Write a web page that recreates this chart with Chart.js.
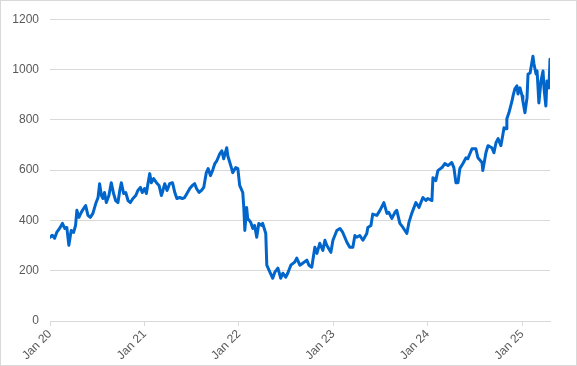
<!DOCTYPE html>
<html>
<head>
<meta charset="utf-8">
<script src="https://cdn.jsdelivr.net/npm/chart.js@4.4.1/dist/chart.umd.min.js"></script>
<style>
    html, body { margin: 0; padding: 0; background: #fff; }
    #wrap {
        width: 577px;
        height: 366px;
        box-sizing: border-box;
        border: 1px solid #d9d9d9;
        background: #fff;
    }
    canvas { display: block; }
</style>
</head>
<body>
<div id="wrap"><canvas id="priceChart" width="575" height="364"></canvas></div>
<script>
// Days since 1 Jan 2020
const days = [
    0, 9, 18, 26, 37, 48, 57, 65, 73, 82, 91, 99, 104, 112, 121, 130, 138, 147, 156, 166,
    177, 186, 192, 199, 205, 211, 218, 228, 237, 246, 254, 263, 270, 276, 285, 293, 302, 311, 321, 332,
    340, 350, 357, 366, 373, 379, 386, 392, 401, 412, 422, 431, 437, 444, 453, 463, 474, 483, 491, 502,
    512, 521, 530, 541, 551, 560, 567, 577, 586, 595, 605, 612, 621, 629, 638, 646, 657, 665, 672, 684,
    688, 703, 707, 719, 727, 734, 746, 750, 754, 761, 765, 777, 785, 792, 800, 808, 820, 823, 835, 839,
    851, 862, 870, 882, 893, 901, 912, 920, 932, 947, 955, 967, 978, 994, 1002, 1013, 1025, 1033, 1044, 1056,
    1064, 1071, 1087, 1095, 1110, 1122, 1133, 1149, 1160, 1172, 1180, 1187, 1199, 1211, 1226, 1230, 1242, 1249, 1265, 1277,
    1292, 1304, 1311, 1323, 1335, 1342, 1354, 1366, 1381, 1389, 1400, 1416, 1428, 1443, 1455, 1462, 1478, 1482, 1493, 1501,
    1517, 1528, 1540, 1555, 1563, 1571, 1579, 1586, 1598, 1610, 1617, 1633, 1648, 1656, 1672, 1675, 1687, 1695, 1710, 1718,
    1726, 1734, 1745, 1753, 1757, 1765, 1768, 1776, 1788, 1792, 1799, 1807, 1811, 1819, 1827, 1830, 1838, 1846, 1850, 1858,
    1869, 1873, 1881, 1885, 1892, 1900, 1908, 1912, 1919, 1923, 1931, 1935
];

const prices = [
    333, 341, 329, 352, 368, 388, 368, 372, 301, 360, 352, 380, 440, 412, 432, 447, 459, 420, 412, 428,
    467, 491, 546, 499, 487, 511, 471, 499, 550, 507, 479, 471, 519, 550, 507, 511, 479, 471, 487, 499,
    519, 531, 511, 527, 507, 546, 586, 550, 566, 550, 539, 499, 519, 546, 519, 546, 550, 511, 487, 491,
    487, 491, 507, 527, 539, 546, 527, 511, 519, 531, 590, 606, 578, 598, 626, 638, 665, 677, 645, 689,
    657, 606, 590, 610, 606, 539, 511, 451, 360, 451, 408, 392, 368, 380, 333, 388, 380, 388, 348, 222,
    194, 170, 194, 210, 170, 190, 174, 190, 222, 234, 250, 222, 230, 242, 222, 214, 293, 269, 309, 281,
    321, 301, 273, 321, 360, 368, 352, 313, 293, 293, 340, 333, 340, 321, 348, 372, 380, 425, 420, 440,
    471, 428, 432, 408, 432, 440, 388, 372, 348, 392, 428, 471, 451, 491, 479, 487, 479, 570, 558, 598,
    610, 626, 618, 630, 610, 550, 550, 606, 626, 649, 645, 685, 685, 649, 630, 598, 669, 697, 689, 669,
    709, 725, 697, 744, 768, 764, 804, 828, 875, 895, 923, 935, 903, 927, 895, 875, 828, 887, 982, 986,
    1053, 1022, 982, 994, 867, 954, 994, 923, 855, 954, 927, 1041
];

const tickLabels = ['Jan 20', 'Jan 21', 'Jan 22', 'Jan 23', 'Jan 24', 'Jan 25'];
const yTicks = [0, 200, 400, 600, 800, 1000, 1200];

const DAY = 86400000;
const tickDays = tickLabels.map((_, i) => (Date.UTC(2020 + i, 0, 1) - Date.UTC(2020, 0, 1)) / DAY);

const points = days.map((d, i) => ({ x: d, y: prices[i] }));

const font = { family: "'Liberation Sans', Arial, sans-serif", size: 12 };
const textColor = '#595959';
const gridColor = '#d9d9d9';

new Chart(document.getElementById('priceChart'), {
    type: 'line',
    data: {
        datasets: [{
            data: points,
            borderColor: '#0066cc',
            borderWidth: 3,
            pointRadius: 0,
            tension: 0,
            borderJoinStyle: 'round',
            borderCapStyle: 'round'
        }]
    },
    options: {
        responsive: false,
        animation: false,
        events: [],
        layout: { padding: { top: 17, right: 26, left: 0, bottom: 0 } },
        plugins: {
            legend: { display: false },
            tooltip: { enabled: false }
        },
        scales: {
            x: {
                type: 'linear',
                min: days[0],
                max: days[days.length - 1],
                afterBuildTicks: (scale) => {
                    scale.ticks = tickDays.map(v => ({ value: v }));
                },
                afterFit: (scale) => { scale.height = 44; },
                grid: {
                    drawOnChartArea: false,
                    drawTicks: true,
                    tickLength: 5,
                    color: gridColor
                },
                border: { display: true, color: gridColor },
                ticks: {
                    autoSkip: false,
                    minRotation: 45,
                    maxRotation: 45,
                    padding: 1,
                    color: textColor,
                    font: font,
                    callback: (v) => {
                        const i = tickDays.indexOf(v);
                        return i >= 0 ? tickLabels[i] : '';
                    }
                }
            },
            y: {
                min: yTicks[0],
                max: yTicks[yTicks.length - 1],
                afterBuildTicks: (scale) => {
                    scale.ticks = yTicks.map(v => ({ value: v }));
                },
                afterFit: (scale) => { scale.width = 49; },
                grid: { color: gridColor, drawTicks: false },
                border: { display: false },
                ticks: {
                    padding: 11,
                    color: textColor,
                    font: font,
                    callback: (v) => String(v)
                }
            }
        }
    }
});
</script>
</body>
</html>
